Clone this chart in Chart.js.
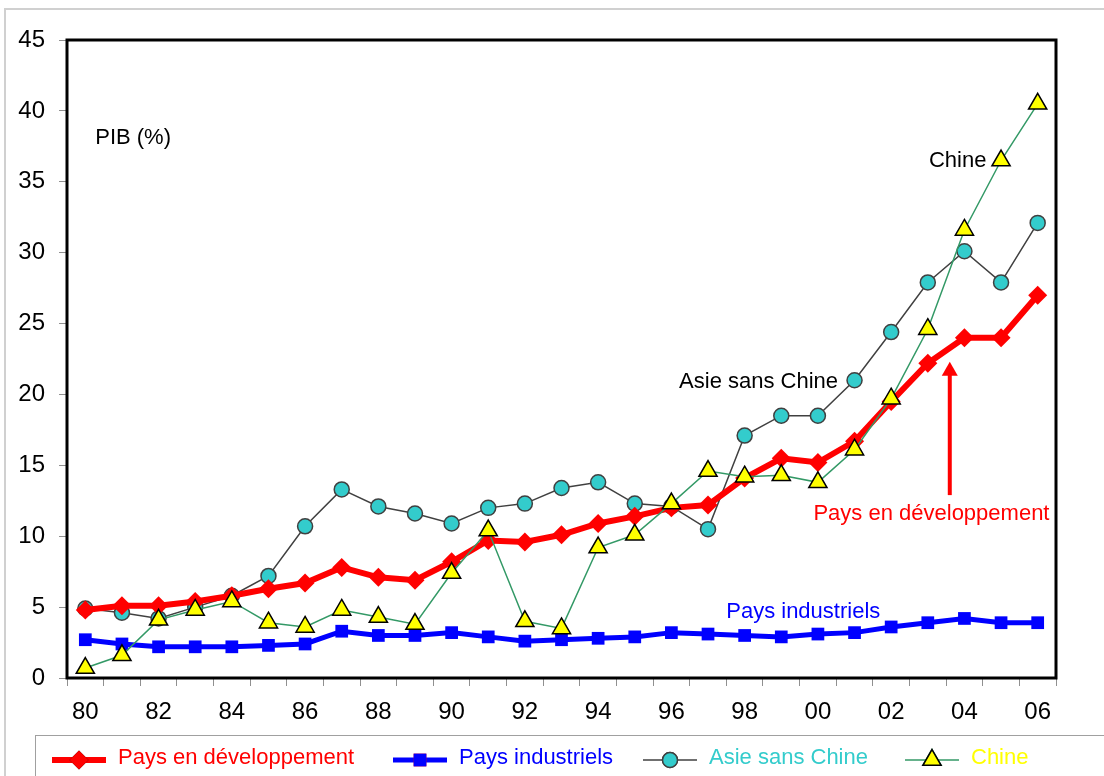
<!DOCTYPE html>
<html lang="fr">
<head>
<meta charset="UTF-8">
<title>PIB (%)</title>
<script src="https://cdn.jsdelivr.net/npm/chart.js"></script>
<style>
    body {
        margin: 0;
        background: #fff;
        font-family: "Liberation Sans", Arial, sans-serif;
    }
    .frame {
        position: absolute;
        left: 4px;
        top: 8px;
        width: 1100px;
        height: 768px;
        border-top: 2px solid #d0d0d0;
        border-left: 2px solid #d0d0d0;
    }
    .wrap {
        position: absolute;
        left: 0;
        top: 0;
        width: 1104px;
        height: 776px;
    }
</style>
</head>
<body>
<div class="frame"></div>
<div class="wrap"><canvas id="chart" width="1104" height="776"></canvas></div>
<script>
// years 1980 - 2006
const years = ['80','81','82','83','84','85','86','87','88','89','90','91','92','93','94','95','96','97','98','99','00','01','02','03','04','05','06'];
const yTicks = [0, 5, 10, 15, 20, 25, 30, 35, 40, 45];

const paysDev = [4.8, 5.1, 5.1, 5.4, 5.8, 6.3, 6.7, 7.8, 7.1, 6.9, 8.2, 9.7, 9.6, 10.1, 10.9, 11.4, 12.0, 12.2, 14.1, 15.5, 15.2, 16.7, 19.5, 22.2, 24.0, 24.0, 27.0];
const paysInd = [2.7, 2.4, 2.2, 2.2, 2.2, 2.3, 2.4, 3.3, 3.0, 3.0, 3.2, 2.9, 2.6, 2.7, 2.8, 2.9, 3.2, 3.1, 3.0, 2.9, 3.1, 3.2, 3.6, 3.9, 4.2, 3.9, 3.9];
const asieSansChine = [4.9, 4.6, 4.2, 5.0, 5.8, 7.2, 10.7, 13.3, 12.1, 11.6, 10.9, 12.0, 12.3, 13.4, 13.8, 12.3, 12.1, 10.5, 17.1, 18.5, 18.5, 21.0, 24.4, 27.9, 30.1, 27.9, 32.1];
const chine = [0.7, 1.6, 4.1, 4.8, 5.4, 3.9, 3.6, 4.8, 4.3, 3.8, 7.4, 10.4, 4.0, 3.5, 9.2, 10.1, 12.3, 14.6, 14.2, 14.3, 13.8, 16.1, 19.7, 24.6, 31.6, 36.5, 40.5];

const FONT = '"Liberation Sans", Arial, sans-serif';

// text labels inside the plot, placed in data units (category index, value)
const notes = [
    { text: 'PIB (%)', x: 0.27, y: 38.1, align: 'left', color: '#000' },
    { text: 'Chine', x: 24.6, y: 36.5, align: 'right', color: '#000' },
    { text: 'Asie sans Chine', x: 20.55, y: 20.9, align: 'right', color: '#000' },
    { text: 'Pays en développement', x: 23.1, y: 11.6, align: 'center', color: '#ff0000' },
    { text: 'Pays industriels', x: 19.6, y: 4.65, align: 'center', color: '#0000ff' }
];

const boxPlugin = {
    id: 'box',
    afterDatasetsDraw(chart) {
        const { ctx, chartArea: a } = chart;
        ctx.save();
        ctx.strokeStyle = '#000';
        ctx.lineWidth = 3;
        ctx.strokeRect(a.left, a.top, a.right - a.left, a.bottom - a.top);
        ctx.restore();
    }
};

const notesPlugin = {
    id: 'notes',
    afterDatasetsDraw(chart) {
        const { ctx, scales } = chart;
        ctx.save();
        ctx.font = '22px ' + FONT;
        ctx.textBaseline = 'middle';
        notes.forEach(n => {
            ctx.fillStyle = n.color;
            ctx.textAlign = n.align;
            ctx.fillText(n.text, scales.x.getPixelForValue(n.x), scales.y.getPixelForValue(n.y));
        });
        // red arrow pointing at the developing countries line
        const ax = scales.x.getPixelForValue(23.6);
        const y0 = scales.y.getPixelForValue(12.9);
        const y1 = scales.y.getPixelForValue(22.3);
        ctx.strokeStyle = '#ff0000';
        ctx.fillStyle = '#ff0000';
        ctx.lineWidth = 4;
        ctx.beginPath();
        ctx.moveTo(ax, y0);
        ctx.lineTo(ax, y1 + 10);
        ctx.stroke();
        ctx.beginPath();
        ctx.moveTo(ax, y1);
        ctx.lineTo(ax - 8, y1 + 14);
        ctx.lineTo(ax + 8, y1 + 14);
        ctx.closePath();
        ctx.fill();
        ctx.restore();
    }
};

const legendPlugin = {
    id: 'boxLegend',
    afterDraw(chart) {
        const { ctx } = chart;
        ctx.save();
        ctx.strokeStyle = '#a0a0a0';
        ctx.lineWidth = 1;
        ctx.strokeRect(35.5, 735.5, 1100, 60);
        const items = [
            { x: 52, text: 'Pays en développement', textColor: '#ff0000' },
            { x: 393, text: 'Pays industriels', textColor: '#0000ff' },
            { x: 643, text: 'Asie sans Chine', textColor: '#33cccc' },
            { x: 905, text: 'Chine', textColor: '#ffff00' }
        ];
        const y = 760;
        chart.data.datasets.forEach((ds, i) => {
            const it = items[i];
            ctx.strokeStyle = ds.borderColor;
            ctx.lineWidth = ds.borderWidth;
            ctx.beginPath();
            ctx.moveTo(it.x, y);
            ctx.lineTo(it.x + 54, y);
            ctx.stroke();
            Chart.helpers.drawPoint(ctx, {
                pointStyle: ds.pointStyle,
                radius: ds.pointRadius,
                rotation: 0,
                borderWidth: ds.pointBorderWidth
            }, it.x + 27, y);
            ctx.fillStyle = ds.pointBackgroundColor;
            ctx.strokeStyle = ds.pointBorderColor;
            ctx.lineWidth = ds.pointBorderWidth;
            ctx.fill();
            if (ds.pointBorderWidth) ctx.stroke();
            ctx.font = '22px ' + FONT;
            ctx.textAlign = 'left';
            ctx.textBaseline = 'middle';
            ctx.fillStyle = it.textColor;
            ctx.fillText(it.text, it.x + 66, y - 2);
        });
        ctx.restore();
    }
};

new Chart(document.getElementById('chart'), {
    type: 'line',
    data: {
        labels: years,
        datasets: [
            {
                label: 'Pays en développement',
                data: paysDev,
                borderColor: '#ff0000',
                borderWidth: 6,
                pointStyle: 'rectRot',
                pointRadius: 9.5,
                pointBackgroundColor: '#ff0000',
                pointBorderColor: '#ff0000',
                pointBorderWidth: 0,
                order: 1
            },
            {
                label: 'Pays industriels',
                data: paysInd,
                borderColor: '#0000ff',
                borderWidth: 5,
                pointStyle: 'rect',
                pointRadius: 9,
                pointBackgroundColor: '#0000ff',
                pointBorderColor: '#0000ff',
                pointBorderWidth: 0,
                order: 2
            },
            {
                label: 'Asie sans Chine',
                data: asieSansChine,
                borderColor: '#404040',
                borderWidth: 1.5,
                pointStyle: 'circle',
                pointRadius: 7.5,
                pointBackgroundColor: '#33cccc',
                pointBorderColor: '#404040',
                pointBorderWidth: 1.5,
                order: 3
            },
            {
                label: 'Chine',
                data: chine,
                borderColor: '#339966',
                borderWidth: 1.5,
                pointStyle: 'triangle',
                pointRadius: 10.5,
                pointBackgroundColor: '#ffff00',
                pointBorderColor: '#000000',
                pointBorderWidth: 1.5,
                order: 0
            }
        ]
    },
    options: {
        responsive: false,
        animation: false,
        layout: { padding: { left: 0, top: 40, right: 48, bottom: 50 } },
        plugins: {
            legend: { display: false },
            tooltip: { enabled: false }
        },
        elements: { line: { tension: 0 } },
        scales: {
            x: {
                offset: true,
                grid: { display: true, drawOnChartArea: false, offset: true, color: '#909090', tickLength: 8, tickWidth: 1 },
                border: { display: false },
                ticks: {
                    autoSkip: false,
                    maxRotation: 0,
                    color: '#000',
                    font: { family: FONT, size: 24 },
                    padding: 12,
                    callback: (v, i) => (i % 2 === 0 ? years[i] : '')
                },
                afterFit: s => { s.height = 48; }
            },
            y: {
                min: 0,
                max: 45,
                afterBuildTicks: s => { s.ticks = yTicks.map(v => ({ value: v })); },
                grid: { display: true, drawOnChartArea: false, color: '#909090', tickLength: 8, tickWidth: 1 },
                border: { display: false },
                ticks: {
                    color: '#000',
                    font: { family: FONT, size: 24 },
                    padding: 14
                },
                afterFit: s => { s.width = 67; }
            }
        }
    },
    plugins: [boxPlugin, notesPlugin, legendPlugin]
});
</script>
</body>
</html>
